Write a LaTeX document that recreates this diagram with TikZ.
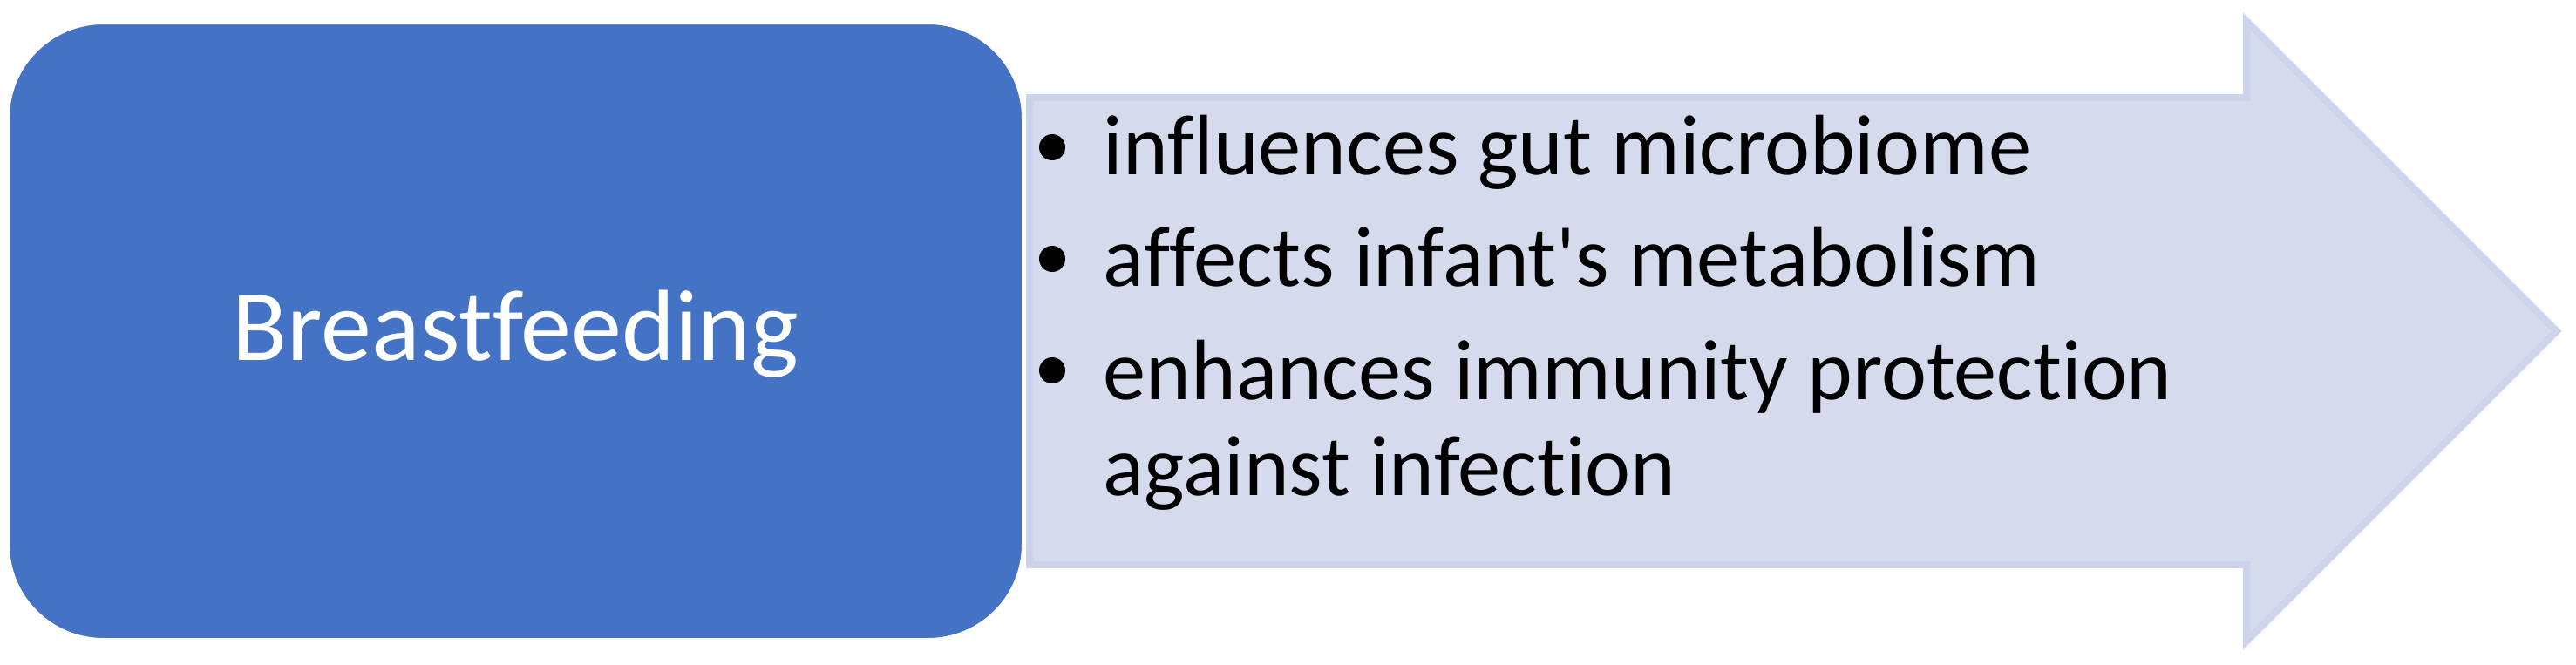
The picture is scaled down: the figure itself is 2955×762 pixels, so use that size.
\documentclass[tikz,border=0pt]{standalone}
\usepackage{fontspec}
\setmainfont{Carlito}[Ligatures={NoCommon}]
\definecolor{boxblue}{RGB}{68,114,196}
\definecolor{arrowfill}{RGB}{213,218,236}
\definecolor{arrowline}{RGB}{205,211,234}
\tikzset{
  bluebox/.style={rectangle, rounded corners=27.5pt, fill=boxblue, draw=white, line width=1.25pt,
    minimum width=291.5pt, minimum height=177.25pt, inner sep=0pt,
    text=white, font=\fontsize{29}{34}\selectfont, text height=16.5pt, text depth=0pt},
  itemtext/.style={anchor=base west, inner sep=0pt, font=\fontsize{24.6}{27.5}\selectfont},
  dot/.style={circle, fill=black, minimum size=7.5pt, inner sep=0pt}
}
\begin{document}
\begin{tikzpicture}[x=0.25pt,y=0.25pt,yscale=-1,xscale=1]
\useasboundingbox (0,0) rectangle (2955,762);

%Shape: Right Arrow
\draw [color=arrowline, fill=arrowfill, line width=2pt, line join=miter] (1181,112) -- (2577,112) -- (2577,24) -- (2933,380) -- (2577,736) -- (2577,648) -- (1181,648) -- cycle ;

%Shape: Rounded Rect
\node [bluebox] (feed) at (591.5,380) {Breastfeeding};

%Bullets
\node [dot] (dot1) at (1207,169) {};
\node [dot] (dot2) at (1207,297) {};
\node [dot] (dot3) at (1207,425) {};

% Text Node
\node [itemtext] (gut) at (1265,200) {influences gut microbiome};
% Text Node
\node [itemtext] (meta) at (1265,328) {affects infant\textquotesingle s metabolism};
% Text Node
\node [itemtext] (immune) at (1265,458) {enhances immunity protection};
% Text Node
\node [itemtext] (infect) at (1265,568) {against infection};

\end{tikzpicture}
\end{document}
